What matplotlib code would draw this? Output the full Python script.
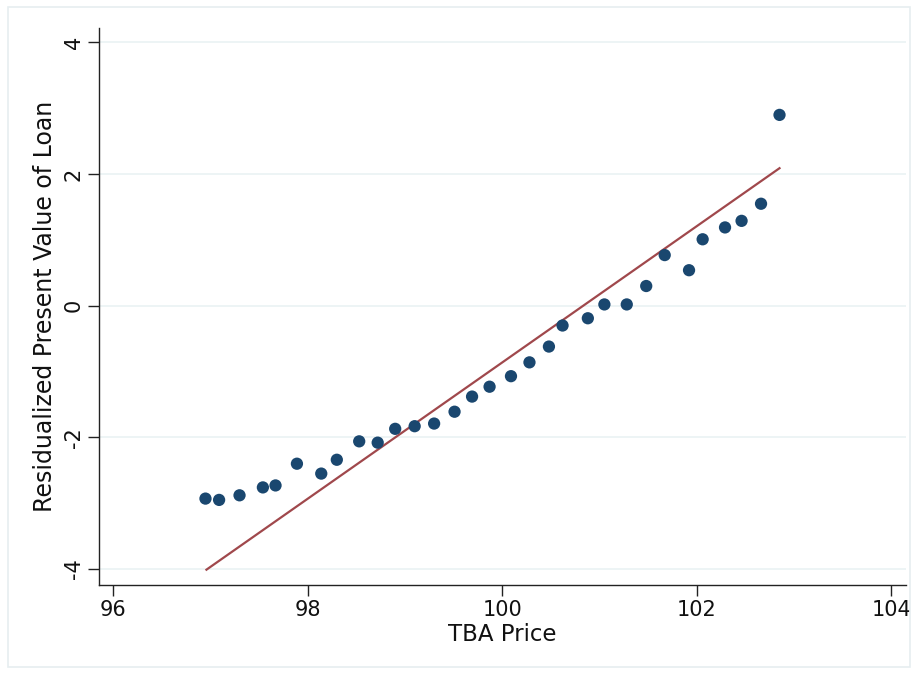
import numpy as np
import matplotlib
matplotlib.use("Agg")
import matplotlib.pyplot as plt
from matplotlib.patches import Rectangle

# binned means
tba_price = [96.95, 97.09, 97.30, 97.54, 97.67, 97.89, 98.14, 98.30, 98.53, 98.72,
             98.90, 99.10, 99.30, 99.51, 99.69, 99.87, 100.09, 100.28, 100.48, 100.62,
             100.88, 101.05, 101.28, 101.48, 101.67, 101.92, 102.06, 102.29, 102.46,
             102.66, 102.85]
resid_pv = [-2.93, -2.95, -2.88, -2.76, -2.73, -2.40, -2.55, -2.34, -2.06, -2.08,
            -1.87, -1.83, -1.79, -1.61, -1.38, -1.23, -1.07, -0.86, -0.62, -0.30,
            -0.19, 0.02, 0.02, 0.30, 0.77, 0.54, 1.01, 1.19, 1.29, 1.55, 2.90]

# linear fit endpoints
fit_x = [96.96, 102.85]
fit_y = [-4.01, 2.09]

xticks = [96, 98, 100, 102, 104]
yticks = [-4, -2, 0, 2, 4]

fig = plt.figure(figsize=(9.17, 6.75), dpi=100)
fig.patch.set_facecolor("white")
# light frame round the graph region
fig.patches.append(Rectangle((8 / 917, 8 / 675), 902 / 917, 660 / 675,
                             transform=fig.transFigure, fill=False,
                             edgecolor="#e6eef0", linewidth=1.2))

ax = fig.add_axes([0.108, 0.134, 0.880, 0.8245])
ax.set_xlim(95.856, 104.15)
ax.set_ylim(-4.236, 4.22)

for yt in yticks:
    ax.axhline(yt, color="#eaf2f3", linewidth=1.2, zorder=0)

ax.plot(fit_x, fit_y, color="#a0484c", linewidth=1.6, zorder=2)
ax.scatter(tba_price, resid_pv, s=78, color="#1a476f", edgecolors="none", zorder=3)

for side in ["top", "right"]:
    ax.spines[side].set_visible(False)
for side in ["left", "bottom"]:
    ax.spines[side].set_color("#222222")
    ax.spines[side].set_linewidth(1.0)

ax.set_xticks(xticks)
ax.set_yticks(yticks)
ax.set_yticklabels([str(t) for t in yticks], rotation=90, va="center")
ax.tick_params(axis="both", length=8, width=1.0, color="#222222",
               labelsize=15, labelcolor="#111111", pad=3)

ax.set_xlabel("TBA Price", fontsize=16.5, color="#111111", labelpad=2)
ax.set_ylabel("Residualized Present Value of Loan", fontsize=17,
              color="#111111", labelpad=5)

fig.savefig("out.png", dpi=100)
